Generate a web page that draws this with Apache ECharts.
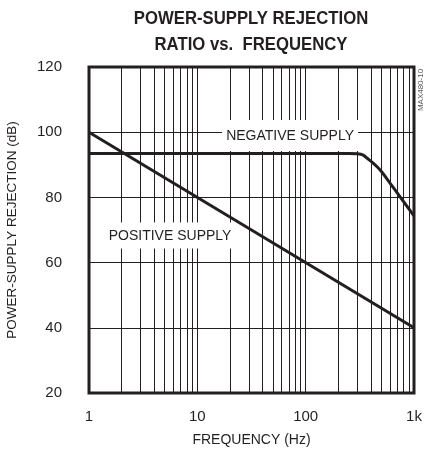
<!DOCTYPE html>
<html>
<head>
<meta charset="utf-8">
<script src="https://cdn.jsdelivr.net/npm/echarts@6/dist/echarts.min.js"></script>
<style>
  html, body { margin: 0; padding: 0; background: #fff; }
  #chart { width: 426px; height: 455px; }
</style>
</head>
<body>
<div id="chart"></div>
<script>
// Power-supply rejection ratio (dB) against frequency (Hz), log frequency axis
const posFreq = [1, 1000];
const posPSRR = [100, 40];

const negFreq = [1, 100, 250, 300, 340, 370, 420, 490, 600, 750, 1000];
const negPSRR = [93.5, 93.5, 93.5, 93.4, 93.0, 92.0, 90.5, 88.3, 84.4, 80.0, 74.3];

const xTickLabels = { 1: '1', 10: '10', 100: '100', 1000: '1k' };
const yTicks = [20, 40, 60, 80, 100, 120];

// 2..9 minor lines inside every decade of the frequency axis
const minorFreqs = [];
for (const dec of [1, 10, 100]) {
  for (let m = 2; m <= 9; m++) minorFreqs.push(dec * m);
}

const FONT = '"Liberation Sans", Arial, Helvetica, sans-serif';
const INK = '#231f20';

const chart = echarts.init(document.getElementById('chart'), null, { renderer: 'canvas' });

const pairs = (xs, ys) => xs.map((x, i) => [x, ys[i]]);

// caption boxes: white ground that interrupts the grid behind the text
const caption = (name, coord, size) => ({
  name, coord, symbol: 'rect', symbolSize: size,
  itemStyle: { color: '#fff' },
  label: {
    show: true, position: 'inside', formatter: name, offset: [0, 1],
    fontFamily: FONT, fontSize: 14, color: INK
  }
});

chart.setOption({
  animation: false,
  backgroundColor: '#fff',
  grid: {
    left: 89, right: 12, top: 67, bottom: 62,
    outerBoundsMode: 'none', containLabel: false,
    show: true, borderColor: INK, borderWidth: 3, backgroundColor: 'transparent'
  },
  graphic: [
    {
      type: 'text', x: 251, y: 6, scaleX: 0.88, z: 10,
      style: {
        text: 'POWER-SUPPLY REJECTION\nRATIO vs.  FREQUENCY',
        font: 'bold 19px ' + FONT, fill: INK,
        align: 'center', lineHeight: 26
      }
    },
    {
      type: 'text', x: 421, y: 90, rotation: Math.PI / 2, z: 10,
      style: {
        text: 'MAX480-10', font: '8px ' + FONT,
        fill: '#555', align: 'center', verticalAlign: 'middle'
      }
    }
  ],
  xAxis: {
    type: 'log', logBase: 10, min: 1, max: 1000,
    name: 'FREQUENCY (Hz)', nameLocation: 'middle', nameGap: 40,
    nameTextStyle: { fontFamily: FONT, fontSize: 14, color: INK },
    axisLine: { show: false },
    axisTick: { show: false },
    splitLine: { show: true, lineStyle: { color: INK, width: 1 } },
    axisLabel: {
      margin: 16, fontFamily: FONT, fontSize: 15, color: INK,
      formatter: v => xTickLabels[Math.round(v)] || ''
    }
  },
  yAxis: {
    type: 'value', min: yTicks[0], max: yTicks[yTicks.length - 1], interval: 20,
    name: 'POWER-SUPPLY REJECTION (dB)', nameLocation: 'middle', nameGap: 70, nameRotate: 90,
    nameTextStyle: { fontFamily: FONT, fontSize: 13.5, color: INK },
    axisLine: { show: false },
    axisTick: { show: false },
    splitLine: { show: true, lineStyle: { color: INK, width: 1 } },
    axisLabel: { margin: 27, fontFamily: FONT, fontSize: 15, color: INK }
  },
  series: [
    {
      // minor vertical grid lines
      type: 'line', data: [], z: 1, silent: true,
      markLine: {
        silent: true, symbol: ['none', 'none'], animation: false,
        label: { show: false },
        lineStyle: { color: INK, width: 1, type: 'solid' },
        data: minorFreqs.map(f => ({ xAxis: f }))
      }
    },
    {
      // curve captions
      type: 'line', data: [], z: 2, silent: true,
      markPoint: {
        silent: true, animation: false,
        data: [
          caption('NEGATIVE SUPPLY', [71.8, 99.0], [136, 31]),
          caption('POSITIVE SUPPLY', [5.6, 68.3], [130, 26])
        ]
      }
    },
    {
      name: 'NEGATIVE SUPPLY', type: 'line', z: 3, symbol: 'none', smooth: 0.25,
      lineStyle: { color: INK, width: 3 },
      data: pairs(negFreq, negPSRR)
    },
    {
      name: 'POSITIVE SUPPLY', type: 'line', z: 3, symbol: 'none',
      lineStyle: { color: INK, width: 3 },
      data: pairs(posFreq, posPSRR)
    }
  ]
});
</script>
</body>
</html>
